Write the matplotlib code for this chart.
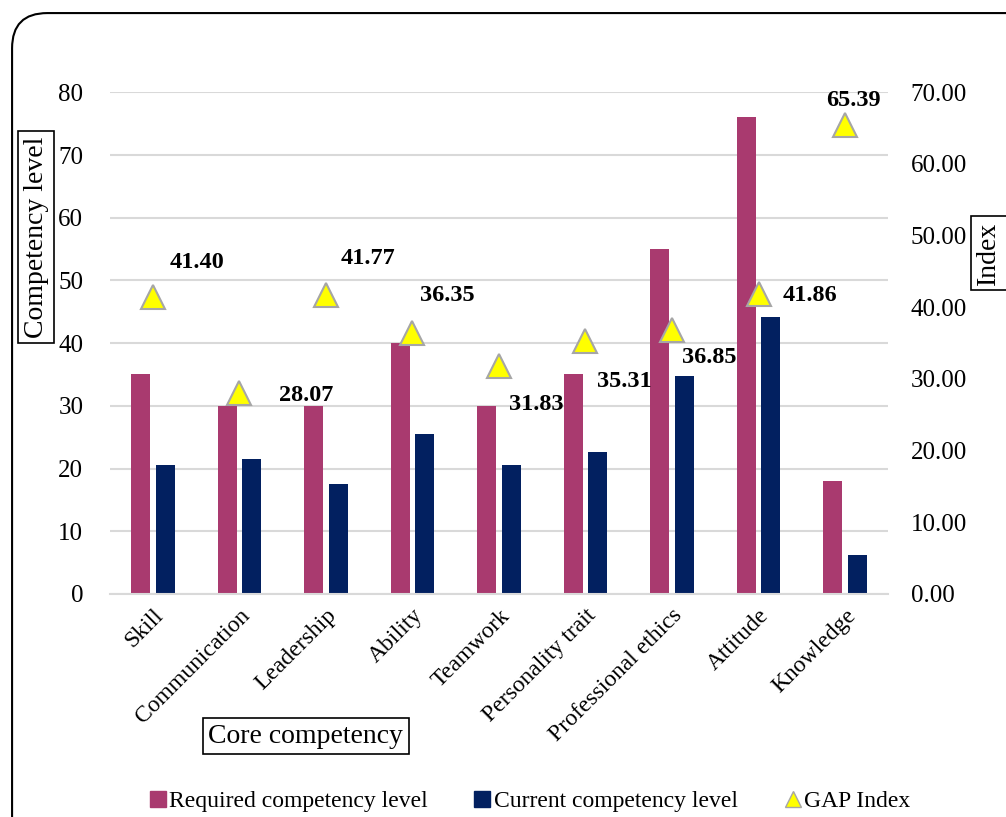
import matplotlib.pyplot as plt
import numpy as np
from matplotlib.patches import FancyBboxPatch
from matplotlib.lines import Line2D

plt.rcParams['font.family'] = ['Liberation Serif', 'DejaVu Serif']

categories = ['Skill', 'Communication', 'Leadership', 'Ability', 'Teamwork',
              'Personality trait', 'Professional ethics', 'Attitude', 'Knowledge']
required_level = [35, 30, 30, 40, 30, 35, 55, 76, 18]
current_level = [20.5, 21.6, 17.5, 25.5, 20.5, 22.7, 34.8, 44.2, 6.2]
gap_index = [41.40, 28.07, 41.77, 36.35, 31.83, 35.31, 36.85, 41.86, 65.39]

# label offsets (points) for the gap index values
label_offsets = [(32, 25), (48, -2), (30, 26), (25, 27), (27, -28),
                 (28, -29), (27, -20), (37, -1), (6, 18)]

fig = plt.figure(figsize=(10.06, 8.17), dpi=100)
ax = fig.add_axes([0.109, 0.273, 0.774, 0.614])

x = np.arange(len(categories))
width = 0.22
c_req = '#A93A6F'
c_cur = '#022060'
ax.bar(x - 0.14, required_level, width, color=c_req)
ax.bar(x + 0.14, current_level, width, color=c_cur)

ax.set_ylim(0, 80)
ax.set_xlim(-0.5, len(categories) - 0.5)
ax.set_yticks(range(0, 81, 10))
ax.yaxis.grid(True, color='#d9d9d9', linewidth=1.5)
ax.set_axisbelow(True)
for s in ['top', 'right', 'left']:
    ax.spines[s].set_visible(False)
ax.spines['bottom'].set_color('#d9d9d9')
ax.spines['bottom'].set_linewidth(1.5)
ax.tick_params(length=0, labelsize=18, pad=19)
ax.tick_params(axis='x', pad=8)
ax.set_xticks(x)
ax.set_xticklabels(categories, rotation=45, ha='right', va='top',
                   rotation_mode='anchor', fontsize=17)

ax2 = ax.twinx()
ax2.set_ylim(0, 70)
ax2.set_yticks(range(0, 71, 10))
ax2.set_yticklabels([f'{v:.2f}' for v in range(0, 71, 10)])
for s in ax2.spines.values():
    s.set_visible(False)
ax2.tick_params(length=0, labelsize=18, pad=16)
ax2.plot(x, gap_index, linestyle='none', marker='^', markersize=17,
         markerfacecolor='#FFFF00', markeredgecolor='#A6A6A6', markeredgewidth=1.5)
for xi, g, off in zip(x, gap_index, label_offsets):
    ax2.annotate(f'{g:.2f}', (xi, g), xytext=off, textcoords='offset points',
                 ha='center', va='center', fontsize=17.5, fontweight='bold')

# axis titles in boxes
box = dict(boxstyle='square,pad=0.2', facecolor='white', edgecolor='black', linewidth=1.2)
fig.text(0.036, 0.71, 'Competency level', rotation=90, ha='center', va='center',
         fontsize=20, bbox=box)
fig.text(0.983, 0.69, 'Index', rotation=90, ha='center', va='center',
         fontsize=20, bbox=box)
fig.text(0.304, 0.099, 'Core competency', ha='center', va='center',
         fontsize=20, bbox=box)

# legend
handles = [
    Line2D([], [], linestyle='none', marker='s', markersize=11, color=c_req),
    Line2D([], [], linestyle='none', marker='s', markersize=11, color=c_cur),
    Line2D([], [], linestyle='none', marker='^', markersize=12,
           markerfacecolor='#FFFF00', markeredgecolor='#A6A6A6'),
]
fig.legend(handles, ['Required competency level', 'Current competency level', 'GAP Index'],
           loc='center', bbox_to_anchor=(0.525, 0.019), ncol=3, frameon=False,
           fontsize=17, handletextpad=0.0, columnspacing=1.8, handlelength=1.0)

# rounded outer frame
frame = FancyBboxPatch((0.012, -0.05), 1.05, 1.034,
                       boxstyle='round,pad=0,rounding_size=0.035',
                       transform=fig.transFigure, facecolor='none',
                       edgecolor='black', linewidth=1.5, mutation_aspect=1.23)
fig.patches.append(frame)

fig.savefig('out.png', dpi=100)
